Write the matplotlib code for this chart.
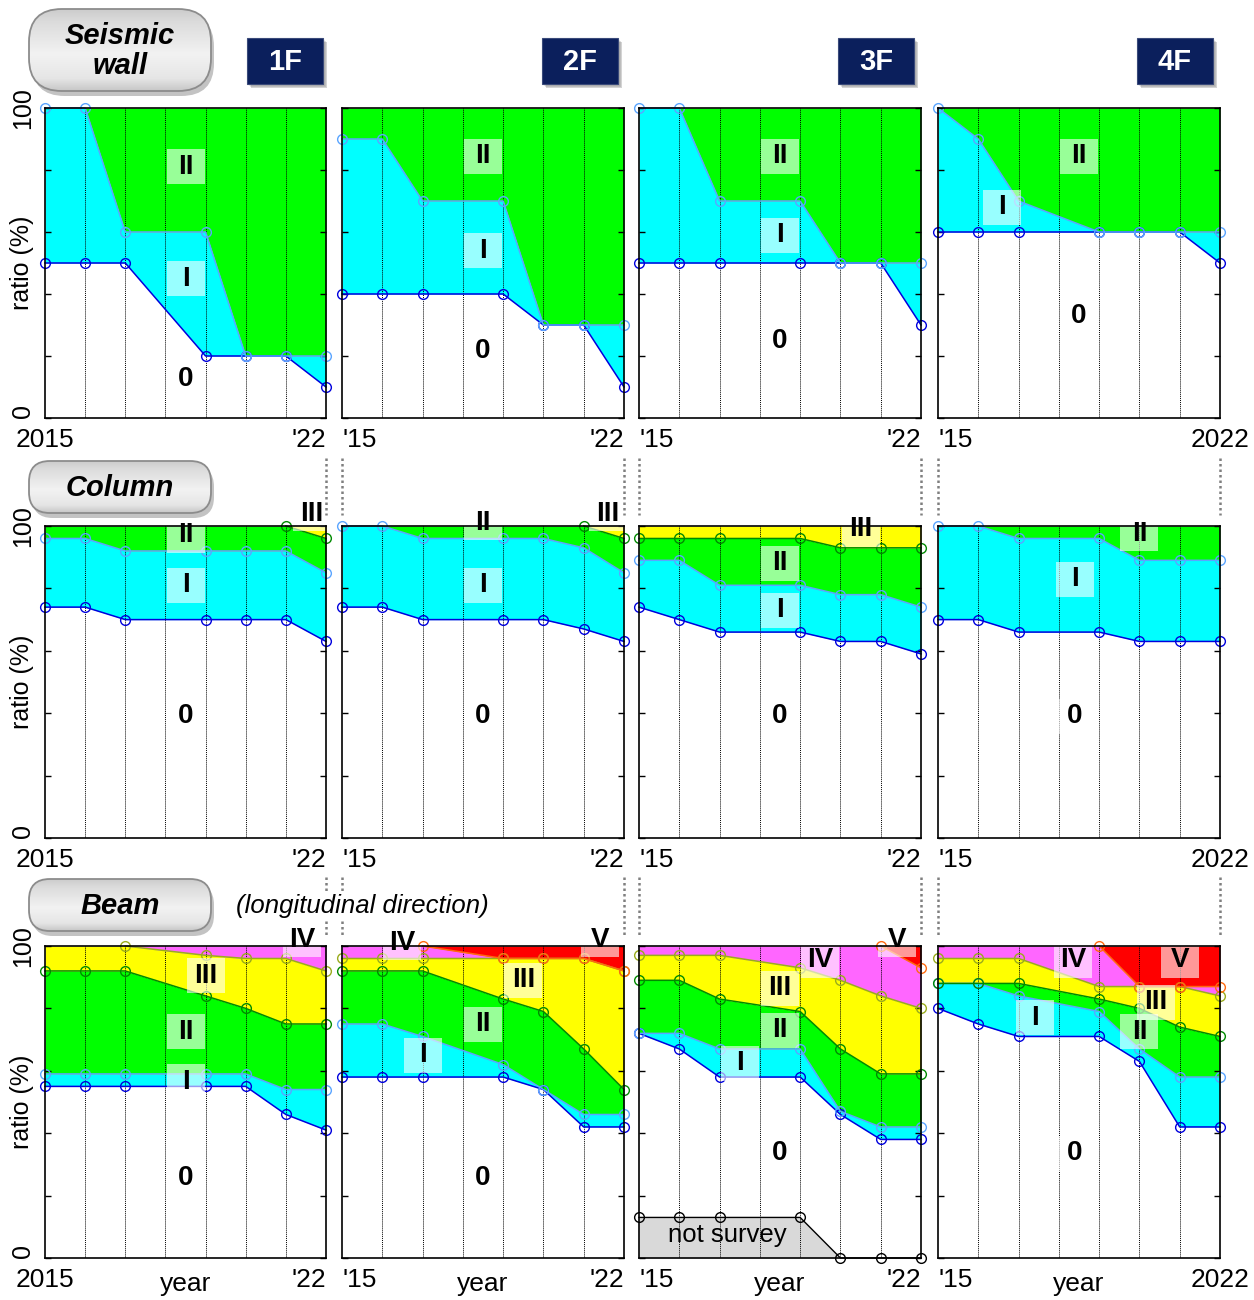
import numpy as np
import matplotlib
matplotlib.use('Agg')
import matplotlib.pyplot as plt
from matplotlib.patches import FancyBboxPatch, Rectangle

plt.rcParams['font.family'] = ['Liberation Sans', 'DejaVu Sans']

# survey years (no survey in 2018)
years = [2015, 2016, 2017, 2019, 2020, 2021, 2022]
floors = ['1F', '2F', '3F', '4F']
nan = np.nan

# cumulative boundaries (%): 0|I, I|II, II|III, III|IV, IV|V  (nan = not drawn)
wall_1f = [[50, 50, 50, 20, 20, 20, 10],
           [100, 100, 60, 60, 20, 20, 20]]
wall_2f = [[40, 40, 40, 40, 30, 30, 10],
           [90, 90, 70, 70, 30, 30, 30]]
wall_3f = [[50, 50, 50, 50, 50, 50, 30],
           [100, 100, 70, 70, 50, 50, 50]]
wall_4f = [[60, 60, 60, 60, 60, 60, 50],
           [100, 90, 70, 60, 60, 60, 60]]

column_1f = [[74, 74, 70, 70, 70, 70, 63],
             [96, 96, 92, 92, 92, 92, 85],
             [nan, nan, nan, nan, nan, 100, 96]]
column_2f = [[74, 74, 70, 70, 70, 67, 63],
             [100, 100, 96, 96, 96, 93, 85],
             [nan, nan, nan, nan, nan, 100, 96]]
column_3f = [[74, 70, 66, 66, 63, 63, 59],
             [89, 89, 81, 81, 78, 78, 74],
             [96, 96, 96, 96, 93, 93, 93]]
column_4f = [[70, 70, 66, 66, 63, 63, 63],
             [100, 100, 96, 96, 89, 89, 89]]

beam_1f = [[55, 55, 55, 55, 55, 46, 41],
           [59, 59, 59, 59, 59, 54, 54],
           [92, 92, 92, 84, 80, 75, 75],
           [nan, nan, 100, 97, 96, 96, 92]]
beam_2f = [[58, 58, 58, 58, 54, 42, 42],
           [75, 75, 71, 62, 54, 46, 46],
           [92, 92, 92, 83, 79, 67, 54],
           [96, 96, 96, 96, 96, 96, 92],
           [nan, nan, 100, 96, 96, 96, 92]]
beam_3f = [[72, 67, 58, 58, 46, 38, 38],
           [72, 72, 67, 67, 47, 42, 42],
           [89, 89, 83, 79, 67, 59, 59],
           [97, 97, 97, 93, 89, 84, 80],
           [nan, nan, nan, nan, nan, 100, 93]]
beam_4f = [[80, 75, 71, 71, 63, 42, 42],
           [88, 88, 84, 79, 67, 58, 58],
           [88, 88, 88, 83, 80, 74, 71],
           [96, 96, 96, 87, 87, 87, 84],
           [nan, nan, nan, 100, 87, 87, 87]]
beam_3f_not_survey = [13, 13, 13, 13, 0, 0, 0]

fill_colors = ['#00ffff', '#00ff00', '#ffff00', '#ff66ff', '#ff0000']
line_colors = ['#0000dd', '#5aa5ff', '#008a00', '#9aac1c', '#ff6a10']

# label placement (layout only)
labels_wall = [
    [('II', 2018.5, 81), ('I', 2018.5, 45), ('0', 2018.5, 12.5)],
    [('II', 2018.5, 84.5), ('I', 2018.5, 54), ('0', 2018.5, 21.5)],
    [('II', 2018.5, 84.5), ('I', 2018.5, 59), ('0', 2018.5, 25)],
    [('II', 2018.5, 84.5), ('I', 2016.6, 68), ('0', 2018.5, 33)],
]
labels_column = [
    [('II', 2018.5, 97), ('I', 2018.5, 81), ('0', 2018.5, 39), ('III', 2021.65, 104)],
    [('II', 2018.5, 101), ('I', 2018.5, 81), ('0', 2018.5, 39), ('III', 2021.6, 104)],
    [('II', 2018.5, 88), ('I', 2018.5, 73), ('0', 2018.5, 39), ('III', 2020.5, 99)],
    [('II', 2020, 97.5), ('I', 2018.4, 83), ('0', 2018.4, 39)],
]
labels_beam = [
    [('IV', 2021.4, 102), ('III', 2019, 90.5), ('II', 2018.5, 72.5),
     ('I', 2018.5, 56.5), ('0', 2018.5, 25.5)],
    [('IV', 2016.5, 101), ('V', 2021.4, 102), ('III', 2019.5, 89),
     ('II', 2018.5, 75), ('I', 2017, 65), ('0', 2018.5, 25.5)],
    [('IV', 2019.5, 95.5), ('V', 2021.4, 102), ('III', 2018.5, 86.5),
     ('II', 2018.5, 73), ('I', 2017.5, 62.5), ('0', 2018.5, 33.5)],
    [('IV', 2018.35, 95.5), ('V', 2021, 95.5), ('III', 2020.4, 82),
     ('II', 2020, 72.5), ('I', 2017.4, 77), ('0', 2018.4, 33.5)],
]

W, H = 1254, 1300
fig = plt.figure(figsize=(W / 100, H / 100), dpi=100)

# overlay in pixel coordinates for headers / buttons
ov = fig.add_axes([0, 0, 1, 1])
ov.axis('off')


def button(text, x0, y0, x1, y1):
    r = (y1 - y0) / 2 * 0.8
    sh = FancyBboxPatch((x0 + r + 3, y0 + r + 5), x1 - x0 - 2 * r, y1 - y0 - 2 * r,
                        boxstyle=f'round,pad={r}', fc='#7a7a7a', ec='none', alpha=0.45)
    ov.add_patch(sh)
    body = FancyBboxPatch((x0 + r, y0 + r), x1 - x0 - 2 * r, y1 - y0 - 2 * r,
                          boxstyle=f'round,pad={r}', fc='none', ec='#8c8c8c', lw=1.3, zorder=3)
    ov.add_patch(body)
    t = np.linspace(0, 1, 100)
    g = np.interp(t, [0, 0.15, 0.55, 0.85, 1], [0.80, 0.86, 0.95, 0.90, 0.78])
    grad = np.stack([g, g, g], axis=-1).reshape(100, 1, 3)
    im = ov.imshow(grad, extent=[x0, x1, y1, y0], origin='upper', aspect='auto', zorder=2)
    im.set_clip_path(body)
    ov.text((x0 + x1) / 2, (y0 + y1) / 2 + 1, text, ha='center', va='center', fontsize=21,
            fontweight='bold', fontstyle='italic', linespacing=1.1, zorder=4)


button('Seismic\nwall', 29, 9, 211, 91)
button('Column', 29, 461, 211, 513)
button('Beam', 29, 879, 211, 931)

for name, fx in zip(floors, [247, 542, 838, 1137]):
    for k, a in enumerate([0.12, 0.18, 0.25]):
        ov.add_patch(Rectangle((fx + 2 + k, 40 + k), 76, 46, fc='#555555', ec='none', alpha=a))
    ov.add_patch(Rectangle((fx, 38), 76, 46, fc='#0b1f5c', ec='#3a4a7a', lw=0.8, zorder=3))
    ov.text(fx + 38, 62, name, color='white', fontsize=21, fontweight='bold',
            ha='center', va='center', zorder=4)

col_px = [(45, 326), (342, 624), (639, 921), (938, 1220)]
row_px = [(108, 418), (526, 838), (946, 1258)]

# dotted connector lines above rows 2 and 3
for (yt, yb), (l0, l1) in [(row_px[1], (458, 515)), (row_px[2], (877, 937))]:
    xs = [col_px[0][1], col_px[1][0], col_px[1][1], col_px[2][0], col_px[2][1],
          col_px[3][0], col_px[3][1]]
    for x in xs:
        ov.plot([x, x], [l0, l1], color='#7f7f7f', lw=1.8, ls=(0, (1, 1.2)), zorder=1)

ov.text(362, 906, '(longitudinal direction)', fontsize=18.5, fontstyle='italic',
        ha='center', va='center', zorder=5,
        bbox=dict(boxstyle='square,pad=0.1', fc='white', ec='none'))

ov.set_xlim(0, W)
ov.set_ylim(H, 0)

panels = [[wall_1f, wall_2f, wall_3f, wall_4f],
          [column_1f, column_2f, column_3f, column_4f],
          [beam_1f, beam_2f, beam_3f, beam_4f]]
panel_labels = [labels_wall, labels_column, labels_beam]

yrs = np.array(years, dtype=float)
for r, (yt, yb) in enumerate(row_px):
    for c, (x0, x1) in enumerate(col_px):
        ax = fig.add_axes([x0 / W, 1 - yb / H, (x1 - x0) / W, (yb - yt) / H])
        bounds = [np.array(s, dtype=float) for s in panels[r][c]]
        filled = [np.where(np.isnan(s), 100, s) for s in bounds] + [np.full(len(yrs), 100.0)]

        if r == 2 and c == 2:
            ns = np.array(beam_3f_not_survey, dtype=float)
            ax.fill_between(yrs, 0, ns, color='#d9d9d9', lw=0, zorder=1)
            ax.plot(yrs, ns, color='black', lw=1, marker='o', ms=7, mfc='none',
                    mew=1, clip_on=False, zorder=3)
            ax.text(2017.2, 7.5, 'not survey', fontsize=18.5, ha='center', va='center', zorder=5)

        for k in range(len(bounds)):
            ax.fill_between(yrs, filled[k], filled[k + 1], color=fill_colors[k], lw=0, zorder=1)

        for yr in range(2016, 2022):
            ax.axvline(yr, color='black', lw=0.7, ls=(0, (1, 1)), zorder=2)

        for k, s in enumerate(bounds):
            ax.plot(yrs, s, color=line_colors[k], lw=1.1, marker='o', ms=7, mfc='none',
                    mew=1, clip_on=False, zorder=3)

        ax_w, ax_h = x1 - x0, yb - yt
        bw, bh = 38 / ax_w, 35 / ax_h
        for txt, lx, ly in panel_labels[r][c]:
            fx, fy = (lx - 2015) / 7, ly / 100
            ax.add_patch(Rectangle((fx - bw / 2, fy - bh / 2), bw, bh, transform=ax.transAxes,
                                   fc='white', ec='none', alpha=0.6, zorder=4))
            ax.text(lx, ly, txt, fontsize=20, fontweight='bold', ha='center', va='center',
                    clip_on=False, zorder=5)

        ax.set_xlim(2015, 2022)
        ax.set_ylim(0, 100)
        ax.set_xticks([2015, 2022])
        left_lab = '2015' if c == 0 else "'15"
        right_lab = '2022' if c == 3 else "'22"
        ax.set_xticklabels([left_lab, right_lab])
        xl = ax.get_xticklabels()
        xl[0].set_ha('center' if c == 0 else 'left')
        xl[1].set_ha('center' if c == 3 else 'right')
        ax.tick_params(axis='x', length=0, pad=7, labelsize=19)

        ax.set_yticks(range(0, 101, 20))
        ax.tick_params(axis='y', direction='in', right=True, length=4, width=1,
                       labelsize=18, labelrotation=90, pad=7)
        if c == 0:
            ax.set_yticklabels(['0', '', '', '', '', '100'])
            yl = ax.get_yticklabels()
            for lab in yl:
                lab.set_va('center')
            yl[0].set_va('bottom')
            ax.set_ylabel('ratio (%)', fontsize=18)
            ax.yaxis.set_label_coords(-0.04, 0.5)
        else:
            ax.tick_params(axis='y', labelleft=False)

        if r == 2:
            ax.text(0.5, -0.105, 'year', transform=ax.transAxes, fontsize=19,
                    ha='center', va='baseline')

        for sp in ax.spines.values():
            sp.set_linewidth(1.2)
            sp.set_zorder(6)

fig.savefig('out.png', dpi=100)
